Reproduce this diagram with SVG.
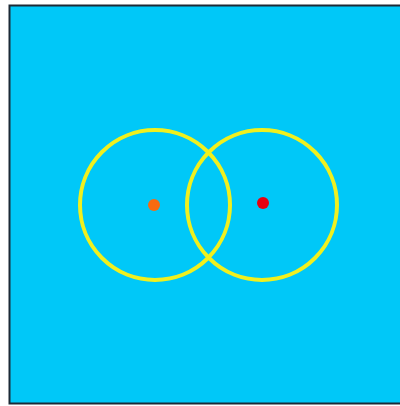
<svg xmlns="http://www.w3.org/2000/svg" width="400" height="406" viewBox="0 0 400 406">
<style>
.ring{fill:none;stroke:#f0f01e;stroke-width:4}
</style>
<rect x="0" y="0" width="400" height="406" fill="#ffffff"/>
<rect id="frame" x="9.5" y="5.5" width="400" height="398" fill="#00c8f8" stroke="#1c2a36" stroke-width="2"/>
<g id="leftCircle">
<circle class="ring" cx="155" cy="205" r="75"/>
<circle cx="154" cy="205" r="6" fill="#f86a10"/>
</g>
<g id="rightCircle">
<circle class="ring" cx="262" cy="205" r="75"/>
<circle cx="263" cy="203" r="6" fill="#e80010"/>
</g>
</svg>
